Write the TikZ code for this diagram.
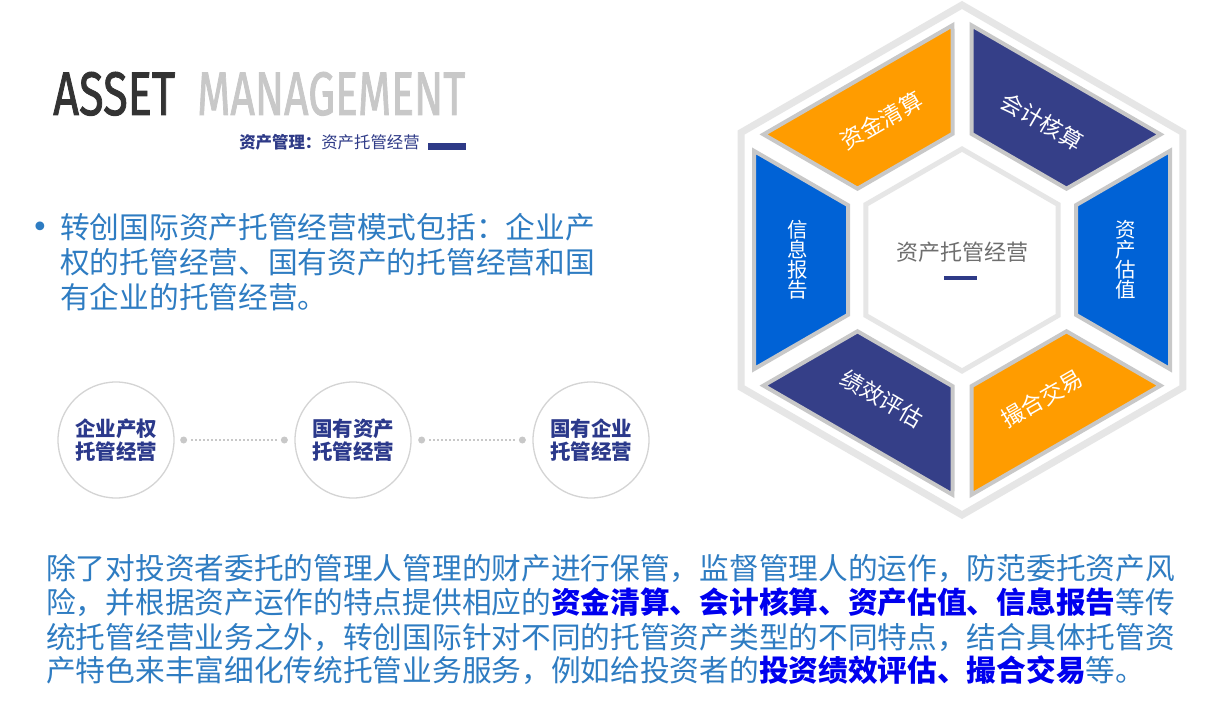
\documentclass[tikz,border=0pt]{standalone}
\usepackage{fontspec}
\setmainfont{Noto Sans CJK SC}
\newfontfamily\titlefont[FakeBold=1.6]{Fira Sans}
\newfontfamily\dejavu{DejaVu Sans}
\usetikzlibrary{calc}
\definecolor{bodyblue}{RGB}{46,124,194}
\definecolor{hiblue}{RGB}{0,0,238}
\definecolor{cnavy}{RGB}{43,57,139}
\definecolor{subnavy}{RGB}{46,58,135}
\definecolor{pnavy}{RGB}{53,63,136}
\definecolor{porange}{RGB}{255,156,0}
\definecolor{pblue}{RGB}{0,98,214}
\definecolor{pborder}{RGB}{200,200,200}
\definecolor{framegray}{RGB}{230,230,230}
\definecolor{circgray}{RGB}{212,212,212}
\definecolor{dotgray}{RGB}{200,200,200}
\definecolor{titledark}{RGB}{51,51,51}
\definecolor{titlegray}{RGB}{200,200,200}
\definecolor{centergray}{RGB}{110,110,110}
\newcommand{\hitext}[1]{{\bfseries\color{hiblue}#1}}
\begin{document}
\begin{tikzpicture}[x=1pt,y=1pt,
  para/.style={anchor=base west, inner sep=0, text=bodyblue, font=\fontsize{29.7}{34}\selectfont},
  circ/.style={circle, draw=circgray, line width=1.3pt, minimum size=116pt, inner sep=0, align=center, text=cnavy, font=\fontsize{20.5}{23}\selectfont\bfseries},
  dotn/.style={circle, fill=dotgray, minimum size=7pt, inner sep=0},
  dotline/.style={draw=dotgray, line width=1.3pt, dash pattern=on 1.3pt off 2.7pt, shorten >=4pt, shorten <=4pt},
  piece/.style={draw=pborder, line width=4pt, line join=miter},
  frame/.style={draw=framegray, line width=7pt, line join=miter},
  plabel/.style={text=white, inner sep=0, align=center, font=\fontsize{22.5}{20}\selectfont},
  vlabel/.style={text=white, inner sep=0, align=center, font=\fontsize{20.5}{20}\selectfont}
]
\useasboundingbox (0,0) rectangle (1206,713);
\fill[white] (0,0) rectangle (1206,713);

% title
\node[anchor=base west, inner sep=0, text=titledark] (t1) at (53,598) {\resizebox{122pt}{43pt}{\titlefont ASSET}};
\node[anchor=base west, inner sep=0, text=titlegray] (t2) at (197,598) {\resizebox{268pt}{43pt}{\titlefont MANAGEMENT}};
\node[anchor=center, inner sep=0, text=subnavy, font=\fontsize{16.4}{18}\selectfont] (sub) at (329.5,571) {{\bfseries 资产管理：}资产托管经营};
\node[fill=subnavy, minimum width=38pt, minimum height=6.5pt, inner sep=0] (bar) at (447,566.5) {};

% bullet text
\node[anchor=base, inner sep=0, text=bodyblue, font=\fontsize{30}{30}\selectfont\dejavu] (bul) at (40,475) {•};
\node[para] (b1) at (60,474.7) {转创国际资产托管经营模式包括：企业产};
\node[para] (b2) at (60,439.7) {权的托管经营、国有资产的托管经营和国};
\node[para] (b3) at (60,404.7) {有企业的托管经营。};

% circles
\node[circ] (c1) at (116,273) {企业产权\\托管经营};
\node[circ] (c2) at (353,273) {国有资产\\托管经营};
\node[circ] (c3) at (591,273) {国有企业\\托管经营};
\node[dotn] (d1) at ([xshift=9pt]c1.east) {};
\node[dotn] (d2) at ([xshift=-10pt]c2.west) {};
\node[dotn] (d3) at ([xshift=10pt]c2.east) {};
\node[dotn] (d4) at ([xshift=-10pt]c3.west) {};
\draw[dotline] (d1) -- (d2);
\draw[dotline] (d3) -- (d4);

% bottom paragraph
\node[para] (p1) at (46,133.7) {除了对投资者委托的管理人管理的财产进行保管，监督管理人的运作，防范委托资产风};
\node[para] (p2) at (46,99.7) {险，并根据资产运作的特点提供相应的\hitext{资金清算、会计核算、资产估值、信息报告}等传};
\node[para] (p3) at (46,64.7) {统托管经营业务之外，转创国际针对不同的托管资产类型的不同特点，结合具体托管资};
\node[para] (p4) at (46,31.7) {产特色来丰富细化传统托管业务服务，例如给投资者的\hitext{投资绩效评估、撮合交易}等。};

% hexagon
\begin{scope}[shift={(962,453)}]
  \draw[frame] (90:255) -- (150:255) -- (210:255) -- (270:255) -- (330:255) -- (30:255) -- cycle;
  \foreach \ang/\col in {0/pblue, 60/pnavy, 120/porange, 180/pblue, 240/pnavy, 300/porange} {
    \filldraw[piece, fill=\col, rotate=\ang] (208,109.1) -- (208,-109.1) -- (114,-54.85) -- (114,54.85) -- cycle;
  }
  \filldraw[fill=white, draw=framegray, line width=5pt] (90:111) -- (150:111) -- (210:111) -- (270:111) -- (330:111) -- (30:111) -- cycle;
  \node[inner sep=0, text=centergray, font=\fontsize{22}{24}\selectfont] (ctr) at (0,8) {资产托管经营};
  \node[fill=subnavy, minimum width=33pt, minimum height=4pt, inner sep=0] (cdash) at (-1.5,-18) {};
  \node[vlabel] (l1) at (0:164) {资\\产\\估\\值};
  \node[plabel, rotate=-30] (l2) at (60:160) {会计核算};
  \node[plabel, rotate=30] (l3) at (120:161) {资金清算};
  \node[vlabel] (l4) at (180:164) {信\\息\\报\\告};
  \node[plabel, rotate=-30] (l5) at (240:160) {绩效评估};
  \node[plabel, rotate=30] (l6) at (300:160) {撮合交易};
\end{scope}
\end{tikzpicture}
\end{document}
